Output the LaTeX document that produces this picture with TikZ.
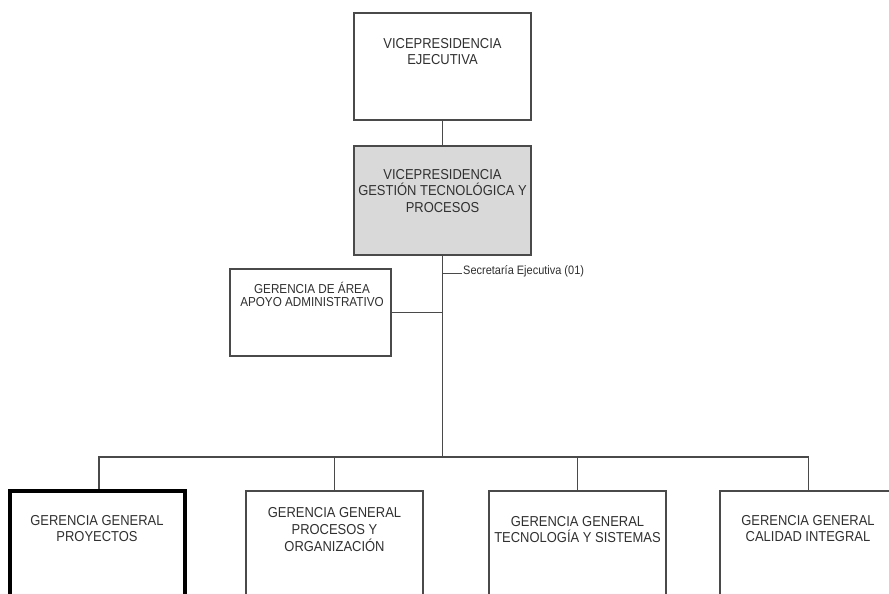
\documentclass[tikz,border=0pt]{standalone}
\usepackage{fontspec}
\setmainfont[FakeStretch=0.9]{Liberation Sans}
\definecolor{linecol}{HTML}{4A4A4A}
\definecolor{boxfill}{HTML}{D9D9D9}
\definecolor{txtcol}{HTML}{303030}
\begin{document}
\begin{tikzpicture}[x=1pt,y=-1pt,
  orgbox/.style={draw=linecol,line width=1.6pt,rectangle,inner sep=0pt},
  boldbox/.style={draw=black,line width=4pt,rectangle,inner sep=0pt},
  txt/.style={align=center,inner sep=0pt,text=txtcol,font=\fontsize{14.4}{16.8}\selectfont},
  smalltxt/.style={align=center,inner sep=0pt,text=txtcol,font=\fontsize{13}{13}\selectfont},
  conn/.style={draw=linecol,line width=1.4pt}]
\useasboundingbox (0,0) rectangle (889,594);
\clip (0,0) rectangle (889,594);
\fill[white] (0,0) rectangle (889,594);
% boxes
\node[orgbox,minimum width=177pt,minimum height=107pt] (vpe) at (442.5,66.5) {};
\node[orgbox,fill=boxfill,minimum width=177pt,minimum height=109pt] (vpg) at (442.5,200.5) {};
\node[orgbox,minimum width=161pt,minimum height=87pt] (apoyo) at (310.5,312.5) {};
\node[boldbox,minimum width=175pt,minimum height=200pt] (g1) at (97.5,591) {};
\node[orgbox,minimum width=177pt,minimum height=200pt] (g2) at (334.5,591) {};
\node[orgbox,minimum width=177pt,minimum height=200pt] (g3) at (577.5,591) {};
\node[orgbox,minimum width=177pt,minimum height=200pt] (g4) at (808.5,591) {};
% texts
\node[txt] (tvpe) at (442.5,51.5) {VICEPRESIDENCIA\\EJECUTIVA};
\node[txt] (tvpg) at (442.5,191) {VICEPRESIDENCIA\\GESTIÓN TECNOLÓGICA Y\\PROCESOS};
\node[smalltxt] (tapoyo) at (312,294) {GERENCIA DE ÁREA\\APOYO ADMINISTRATIVO};
\node[txt] (tg1) at (97,528.5) {GERENCIA GENERAL\\PROYECTOS};
\node[txt] (tg2) at (334.5,529.5) {GERENCIA GENERAL\\PROCESOS Y\\ORGANIZACIÓN};
\node[txt] (tg3) at (577.5,529.5) {GERENCIA GENERAL\\TECNOLOGÍA Y SISTEMAS};
\node[txt] (tg4) at (808,528.5) {GERENCIA GENERAL\\CALIDAD INTEGRAL};
% coordinates
\coordinate (bus) at (442.5,457);
\coordinate (secj) at (442.5,273);
\coordinate (sece) at (462,273);
\node[anchor=west,inner sep=0pt,text=txtcol,font=\fontsize{12.2}{14}\selectfont] (sec) at (463,271.5) {Secretaría Ejecutiva (01)};
% connectors
\draw[conn] (vpe.south) -- (vpg.north);
\draw[conn] (vpg.south) -- (bus);
\draw[conn,line width=1pt] (secj) -- (sece);
\draw[conn] (apoyo.east) -- (apoyo.east -| vpg.south);
\draw[conn] ([xshift=1.5pt]g1.north) |- (bus) -| (g4.north);
\draw[conn] (g2.north) -- (g2.north |- bus);
\draw[conn] (g3.north) -- (g3.north |- bus);
\end{tikzpicture}
\end{document}
